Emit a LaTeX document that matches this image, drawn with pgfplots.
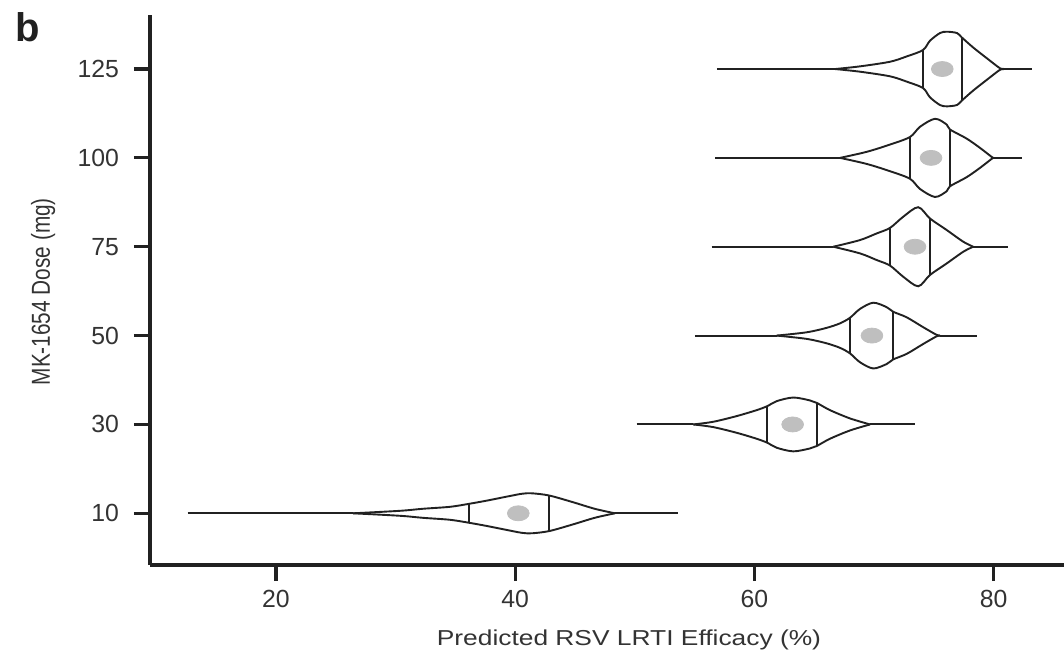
\documentclass[border=0pt]{standalone}
\usepackage{pgfplots}
\pgfplotsset{compat=1.18}
\usepackage{pgfplotstable}
\usepackage{fontspec}
\setmainfont{Liberation Sans}

% violin half-width profiles (x = efficacy %, h = half width in category units)
\pgfplotstableread{
x h
66.74 0
68.83 0.030
71.34 0.082
72.76 0.143
74.10 0.214
74.68 0.318
75.52 0.405
76.10 0.420
76.94 0.405
77.33 0.357
78.28 0.244
79.45 0.120
80.54 0.008
80.87 0
}\vE

\pgfplotstableread{
x h
67.16 0
69.39 0.068
71.34 0.150
73.01 0.235
73.85 0.350
75.10 0.440
76.08 0.375
76.35 0.320
77.75 0.217
78.86 0.113
79.84 0.011
79.97 0
}\vD

\pgfplotstableread{
x h
66.60 0
68.83 0.075
70.23 0.150
71.34 0.212
72.45 0.338
73.70 0.445
74.68 0.318
76.08 0.188
77.47 0.056
78.30 0
}\vC

\pgfplotstableread{
x h
61.87 0
64.37 0.037
66.04 0.087
67.16 0.138
67.99 0.200
68.83 0.300
69.94 0.370
71.06 0.320
71.61 0.268
72.73 0.206
74.12 0.094
75.24 0.008
75.52 0
}\vB

\pgfplotstableread{
x h
54.89 0
56.56 0.030
58.52 0.094
60.19 0.161
61.08 0.206
61.86 0.262
63.25 0.303
64.65 0.270
65.21 0.243
66.32 0.161
67.99 0.068
69.67 0
}\vA

\pgfplotstableread{
x h
26.44 0
30.37 0.028
32.29 0.051
34.55 0.073
36.16 0.107
37.64 0.143
39.31 0.188
40.57 0.220
41.40 0.225
42.85 0.200
44.83 0.125
46.67 0.050
48.34 0
}\vZ

\definecolor{ink}{gray}{0.13}
\definecolor{dotgray}{gray}{0.75}

\begin{document}
\begin{tikzpicture}
\useasboundingbox (-75pt,-47.5pt) rectangle (457pt,282.5pt);
\begin{axis}[
  at={(0,0)}, anchor=south west,
  scale only axis, width=457pt, height=275pt,
  xmin=9.465, xmax=85.89, ymin=-0.582, ymax=5.608,
  axis x line*=bottom, axis y line*=left,
  axis line style={line width=1.6pt, ink, -},
  xtick={20,40,60,80}, xticklabels={20,40,60,80},
  ytick={0,1,2,3,4,5}, yticklabels={10,30,50,75,100,125},
  tick align=outside, major tick length=8pt,
  tick style={line width=1.6pt, ink},
  ticklabel style={font=\fontsize{12.4}{14}\selectfont, text=black!80},
  yticklabel style={xshift=-4pt},
  xticklabel style={yshift=-1pt},
  xlabel={\scalebox{1.22}[1]{Predicted RSV LRTI Efficacy (\%)}},
  xlabel style={font=\fontsize{10.8}{13}\selectfont, text=black!80,
    at={(axis description cs:0.524,-0.137)}, anchor=center},
  ylabel={\scalebox{1}[1.25]{MK-1654 Dose (mg)}},
  ylabel style={font=\fontsize{10.4}{12}\selectfont, text=black!80,
    at={(axis description cs:-0.117,0.497)}, anchor=center},
  clip=false,
  vl/.style={ink, line width=0.95pt, mark=none},
  sm/.style={vl, smooth, tension=0.5},
  dot/.style={dotgray, only marks, mark=*, mark size=3.75pt,
    mark options={xscale=1.45, fill=dotgray, draw=dotgray}},
]
% ---- 125 mg (pos 5)
\addplot[vl] coordinates {(56.87,5) (66.74,5)};
\addplot[vl] coordinates {(80.87,5) (83.19,5)};
\addplot[sm] table[x=x, y expr=5+\thisrow{h}] {\vE};
\addplot[sm] table[x=x, y expr=5-\thisrow{h}] {\vE};
\addplot[vl] coordinates {(74.10,4.786) (74.10,5.214)};
\addplot[vl] coordinates {(77.33,4.643) (77.33,5.357)};
\addplot[dot] coordinates {(75.71,5)};
% ---- 100 mg (pos 4)
\addplot[vl] coordinates {(56.71,4) (67.16,4)};
\addplot[vl] coordinates {(79.97,4) (82.35,4)};
\addplot[sm] table[x=x, y expr=4+\thisrow{h}] {\vD};
\addplot[sm] table[x=x, y expr=4-\thisrow{h}] {\vD};
\addplot[vl] coordinates {(73.01,3.765) (73.01,4.235)};
\addplot[vl] coordinates {(76.35,3.68) (76.35,4.32)};
\addplot[dot] coordinates {(74.77,4)};
% ---- 75 mg (pos 3)
\addplot[vl] coordinates {(56.43,3) (66.60,3)};
\addplot[vl] coordinates {(78.30,3) (81.24,3)};
\addplot[sm] table[x=x, y expr=3+\thisrow{h}] {\vC};
\addplot[sm] table[x=x, y expr=3-\thisrow{h}] {\vC};
\addplot[vl] coordinates {(71.34,2.788) (71.34,3.212)};
\addplot[vl] coordinates {(74.68,2.682) (74.68,3.318)};
\addplot[dot] coordinates {(73.43,3)};
% ---- 50 mg (pos 2)
\addplot[vl] coordinates {(55.03,2) (61.87,2)};
\addplot[vl] coordinates {(75.52,2) (78.59,2)};
\addplot[sm] table[x=x, y expr=2+\thisrow{h}] {\vB};
\addplot[sm] table[x=x, y expr=2-\thisrow{h}] {\vB};
\addplot[vl] coordinates {(67.99,1.8) (67.99,2.2)};
\addplot[vl] coordinates {(71.61,1.732) (71.61,2.268)};
\addplot[dot] coordinates {(69.83,2)};
% ---- 30 mg (pos 1)
\addplot[vl] coordinates {(50.16,1) (54.89,1)};
\addplot[vl] coordinates {(69.67,1) (73.43,1)};
\addplot[sm] table[x=x, y expr=1+\thisrow{h}] {\vA};
\addplot[sm] table[x=x, y expr=1-\thisrow{h}] {\vA};
\addplot[vl] coordinates {(61.08,0.794) (61.08,1.206)};
\addplot[vl] coordinates {(65.21,0.757) (65.21,1.243)};
\addplot[dot] coordinates {(63.20,1)};
% ---- 10 mg (pos 0)
\addplot[vl] coordinates {(12.61,0) (26.44,0)};
\addplot[vl] coordinates {(48.34,0) (53.64,0)};
\addplot[sm] table[x=x, y expr=\thisrow{h}] {\vZ};
\addplot[sm] table[x=x, y expr=-\thisrow{h}] {\vZ};
\addplot[vl] coordinates {(36.16,-0.107) (36.16,0.107)};
\addplot[vl] coordinates {(42.85,-0.2) (42.85,0.2)};
\addplot[dot] coordinates {(40.26,0)};
\end{axis}
\node[font=\bfseries\fontsize{20}{24}\selectfont, text=ink, anchor=center] at (-61pt,268.75pt) {b};
\end{tikzpicture}
\end{document}
